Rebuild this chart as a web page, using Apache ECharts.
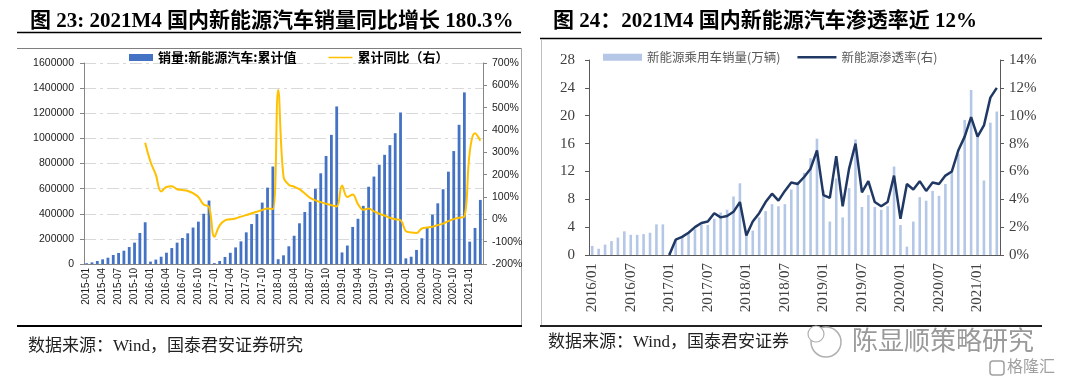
<!DOCTYPE html>
<html><head><meta charset="utf-8">
<script src="https://cdn.jsdelivr.net/npm/echarts@6/dist/echarts.min.js"></script>
<style>html,body{margin:0;padding:0;background:#fff}#c{width:1080px;height:391px}</style>
</head><body><div id="c"></div>
<script>
// ---------- data ----------
function months(y0, m0, y1, m1, sep) {
  const out = [];
  for (let y = y0; y <= y1; y++) {
    for (let m = (y === y0 ? m0 : 1); m <= (y === y1 ? m1 : 12); m++) {
      out.push(y + sep + (m < 10 ? '0' : '') + m);
    }
  }
  return out;
}
const leftMonths = months(2015, 1, 2021, 3, '-');   // 2015-01 .. 2021-03
const rightMonths = months(2016, 1, 2021, 4, '/');  // 2016/01 .. 2021/04

// 销量:新能源汽车:累计值 (辆)
const salesCum = [
  6000, 13000, 24000, 37000, 50000, 72000, 88000, 106000, 135000, 170000, 247000, 332000,
  19000, 35000, 58000, 90000, 127000, 170000, 207000, 244000, 290000, 337000, 400000, 505000,
  7000, 24000, 56000, 89000, 132000, 180000, 252000, 318000, 398000, 489000, 608000, 776000,
  38000, 69000, 141000, 225000, 324000, 414000, 494000, 598000, 722000, 860000, 1028000, 1254000,
  92000, 147000, 295000, 360000, 463000, 615000, 696000, 790000, 869000, 946000, 1041000, 1206000,
  45000, 58000, 112000, 205000, 287000, 393000, 483000, 595000, 735000, 899000, 1108000, 1366000,
  178000, 287000, 510000
];
// 累计同比 (%)
const yoyCum = [
  null, null, null, null, null, null, null, null, null, null, null, 343,
  258, 200, 125, 145, 148, 135, 131, 127, 117, 100, 66, 56,
  -78, -27, -5, 0, 4, 12, 19, 27, 34, 42, 48, 46,
  579, 191, 155, 146, 135, 116, 96, 85, 77, 70, 63, 58,
  151, 100, 111, 68, 43, 48, 36, 25, 17, 7, 0, -4,
  -53, -59, -61, -41, -37, -33, -26, -19, -8, 1, 7, 12,
  300, 385, 352
];
// 新能源乘用车销量 (万辆)
const nevPassenger = [
  1.3, 0.9, 1.5, 2.0, 2.5, 3.4, 2.9, 2.9, 3.0, 3.2, 4.4, 4.4,
  0.3, 2.2, 2.6, 3.1, 3.7, 4.4, 4.3, 5.2, 6.1, 6.5, 8.4, 10.3,
  3.3, 3.5, 5.4, 6.3, 7.3, 7.0, 7.3, 9.4, 10.5, 11.8, 13.9, 16.7,
  9.3, 4.8, 11.0, 5.4, 9.6, 16.6, 6.9, 8.6, 6.9, 6.5, 7.0, 12.7,
  4.3, 1.2, 4.8, 8.3, 7.8, 9.2, 8.5, 10.2, 12.0, 14.5, 19.4, 23.7,
  17.0, 10.7, 19.0, 20.6
];
// 新能源渗透率 (%)
const penetration = [
  null, null, null, null, null, null, null, null, null, null, null, null,
  0, 1.1, 1.3, 1.6, 2.0, 2.3, 2.4, 3.0, 2.7, 2.8, 3.1, 3.8,
  1.4, 2.4, 3.0, 3.8, 4.4, 3.9, 4.6, 5.2, 5.1, 5.6, 6.2, 7.5,
  4.3, 4.1, 7.1, 3.5, 6.2, 8.0, 4.5, 5.3, 3.8, 3.5, 3.8, 5.7,
  2.6, 5.1, 4.7, 5.3, 4.6, 5.2, 5.1, 5.7, 6.0, 7.5, 8.5, 9.9,
  8.5, 9.3, 11.3, 12.0
];

// ---------- chart ----------
const chart = echarts.init(document.getElementById('c'), null, {renderer: 'canvas'});
const sans = 'Liberation Sans';
const serif = 'Liberation Serif';
const cjk = "'Liberation Serif','Noto Sans CJK SC'";
const axisGray = '#868686';
const darkGray = '#595959';
// thin horizontal line legend icon (tiny corner marks keep the full bounding box)
const lineIcon = (h) => 'path://M0,0L0.01,0L0,0.01Z M0,' + (3.5 - h / 2) + 'L40,' + (3.5 - h / 2) + 'L40,' + (3.5 + h / 2) + 'L0,' + (3.5 + h / 2) + 'Z M40,7L39.99,7L40,6.99Z';

chart.setOption({
  animation: false,
  backgroundColor: '#fff',
  grid: [
    {left: 84, top: 63, width: 399, height: 201},
    {left: 589, top: 60, width: 411, height: 195}
  ],
  legend: [
    {
      data: [
        {name: '销量:新能源汽车:累计值', icon: 'rect', itemStyle: {color: '#4472C4'}},
        {name: '累计同比（右）', icon: lineIcon(2.6), itemStyle: {color: '#FFC000', borderWidth: 0}}
      ],
      left: 124, top: 46, itemWidth: 24, itemHeight: 7, itemGap: 32,
      textStyle: {fontSize: 13, fontWeight: 'bold', color: '#000', fontFamily: 'Noto Sans CJK SC'}
    },
    {
      data: [
        {name: '新能源乘用车销量(万辆)', icon: 'rect', itemStyle: {color: '#B4C7E7'}},
        {name: '新能源渗透率(右)', icon: lineIcon(2.6), itemStyle: {color: '#203864', borderWidth: 0}}
      ],
      left: 598, top: 46, itemWidth: 39, itemHeight: 7, itemGap: 17,
      textStyle: {fontSize: 12.5, color: '#595959', fontFamily: 'Noto Sans CJK SC'}
    }
  ],
  xAxis: [
    {
      type: 'category', gridIndex: 0, data: leftMonths, boundaryGap: true,
      axisLine: {lineStyle: {color: axisGray}},
      axisTick: {interval: 2, length: 4, lineStyle: {color: axisGray}},
      axisLabel: {interval: 2, rotate: 90, fontSize: 10, color: '#222', margin: 4, fontFamily: sans}
    },
    {
      type: 'category', gridIndex: 1, data: rightMonths, boundaryGap: true,
      axisLine: {lineStyle: {color: darkGray}},
      axisTick: {interval: 10, length: 4, lineStyle: {color: darkGray}},
      axisLabel: {interval: 5, rotate: 90, fontSize: 15, color: '#404040', margin: 8, fontFamily: serif}
    }
  ],
  yAxis: [
    {
      type: 'value', gridIndex: 0, min: 0, max: 1600000, interval: 200000,
      axisLine: {show: true, lineStyle: {color: axisGray}},
      axisTick: {show: true, length: 4, lineStyle: {color: axisGray}},
      splitLine: {show: true, lineStyle: {color: '#D9D9D9', type: [12, 4, 3, 4]}},
      axisLabel: {fontSize: 10.5, color: '#222', margin: 10, fontFamily: sans, formatter: (v) => String(v)}
    },
    {
      type: 'value', gridIndex: 0, position: 'right', min: -200, max: 700, interval: 100,
      axisLine: {show: true, lineStyle: {color: axisGray}},
      axisTick: {show: true, length: 4, lineStyle: {color: axisGray}},
      splitLine: {show: false},
      axisLabel: {fontSize: 10.5, color: '#222', margin: 9, fontFamily: sans, formatter: '{value}%'}
    },
    {
      type: 'value', gridIndex: 1, min: 0, max: 28, interval: 4,
      axisLine: {show: true, lineStyle: {color: darkGray}},
      axisTick: {show: true, length: 4, lineStyle: {color: darkGray}},
      splitLine: {show: false},
      axisLabel: {fontSize: 15, color: '#404040', margin: 14, fontFamily: serif}
    },
    {
      type: 'value', gridIndex: 1, position: 'right', min: 0, max: 14, interval: 2,
      axisLine: {show: true, lineStyle: {color: darkGray}},
      axisTick: {show: true, length: 4, lineStyle: {color: darkGray}},
      splitLine: {show: false},
      axisLabel: {fontSize: 15, color: '#404040', margin: 9, fontFamily: serif, formatter: '{value}%'}
    }
  ],
  series: [
    {
      name: '销量:新能源汽车:累计值', type: 'bar', xAxisIndex: 0, yAxisIndex: 0,
      data: salesCum, barWidth: 2.8, itemStyle: {color: '#4472C4'}
    },
    {
      name: '累计同比（右）', type: 'line', xAxisIndex: 0, yAxisIndex: 1,
      data: yoyCum, smooth: 0.4, symbol: 'none',
      lineStyle: {color: '#FFC000', width: 2}, itemStyle: {color: '#FFC000'}
    },
    {
      name: '新能源乘用车销量(万辆)', type: 'bar', xAxisIndex: 1, yAxisIndex: 2,
      data: nevPassenger, barWidth: 2.6, itemStyle: {color: '#B4C7E7'}
    },
    {
      name: '新能源渗透率(右)', type: 'line', xAxisIndex: 1, yAxisIndex: 3,
      data: penetration, symbol: 'none',
      lineStyle: {color: '#203864', width: 2.5}, itemStyle: {color: '#203864'}
    }
  ],
  graphic: [
    {type: 'text', left: 30, top: 11, style: {text: '图 23: 2021M4 国内新能源汽车销量同比增长 180.3%', font: 'bold 21px ' + cjk, fill: '#000'}},
    {type: 'text', left: 553, top: 11, style: {text: '图 24：2021M4 国内新能源汽车渗透率近 12%', font: 'bold 21px ' + cjk, fill: '#000'}},
    {type: 'line', shape: {x1: 17, y1: 32.5, x2: 521, y2: 32.5}, style: {stroke: '#000', lineWidth: 1.5}},
    {type: 'line', shape: {x1: 17, y1: 48.5, x2: 521, y2: 48.5}, style: {stroke: '#7f7f7f', lineWidth: 1}},
    {type: 'line', shape: {x1: 521.5, y1: 48, x2: 521.5, y2: 326}, style: {stroke: '#a6a6a6', lineWidth: 1}},
    {type: 'line', shape: {x1: 17, y1: 326, x2: 522, y2: 326}, style: {stroke: '#000', lineWidth: 2}},
    {type: 'line', shape: {x1: 540, y1: 38.5, x2: 1042, y2: 38.5}, style: {stroke: '#000', lineWidth: 1.5}},
    {type: 'line', shape: {x1: 541.5, y1: 39, x2: 541.5, y2: 326}, style: {stroke: '#bfbfbf', lineWidth: 1}},
    {type: 'line', shape: {x1: 540, y1: 326, x2: 1042, y2: 326}, style: {stroke: '#222', lineWidth: 2}},
    {type: 'text', left: 28, top: 338, style: {text: '数据来源：Wind，国泰君安证券研究', font: '17px ' + cjk, fill: '#222'}},
    {type: 'text', left: 548, top: 334, style: {text: '数据来源：Wind，国泰君安证券', font: '17px ' + cjk, fill: '#222'}},
    {type: 'circle', shape: {cx: 826, cy: 342, r: 15}, style: {fill: 'rgba(255,255,255,0.85)', stroke: '#b0b0b0', lineWidth: 1.5}},
    {type: 'circle', shape: {cx: 816, cy: 334, r: 8}, style: {fill: '#fff', stroke: '#b0b0b0', lineWidth: 1.2}},
    {type: 'text', left: 852, top: 327, style: {text: '陈显顺策略研究', font: '26px Noto Sans CJK SC', fill: '#9a9a9a'}},
    {type: 'rect', shape: {x: 990, y: 361, width: 14, height: 14, r: 3}, style: {fill: 'none', stroke: '#a0a0a0', lineWidth: 1.5}},
    {type: 'text', left: 1007, top: 358, style: {text: '格隆汇', font: '16px Noto Sans CJK SC', fill: '#a0a0a0'}}
  ]
});
</script>
</body></html>
